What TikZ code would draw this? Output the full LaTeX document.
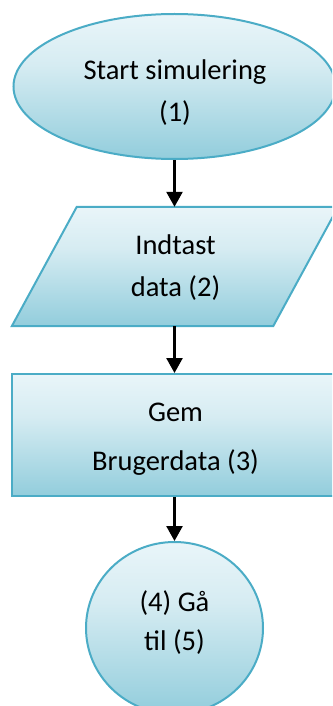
\documentclass[tikz,border=0pt]{standalone}
\usepackage{fontspec}
\setmainfont{Carlito}
\usetikzlibrary{arrows.meta,shapes.geometric,backgrounds}

\definecolor{boxline}{HTML}{4BACC6}
\definecolor{shadetop}{HTML}{E9F5F9}
\definecolor{shademid}{HTML}{D6ECF2}
\definecolor{shadebot}{HTML}{92CDDC}
% light-to-dark vertical fill used by every flowchart shape
\pgfdeclareverticalshading{boxshade}{100bp}{%
  color(0bp)=(shadebot); color(25bp)=(shadebot);
  color(57.5bp)=(shademid);
  color(75bp)=(shadetop); color(100bp)=(shadetop)}

\begin{document}
\begin{tikzpicture}[x=1pt,y=-1pt,
  txt/.style={inner sep=0pt, anchor=base, font=\fontsize{28.5}{34}\selectfont},
  shapebase/.style={inner sep=0pt, draw=boxline, line width=2pt, shade, shading=boxshade},
  terminal/.style={shapebase, ellipse},
  process/.style={shapebase, rectangle},
  connector/.style={shapebase, ellipse},
  iofill/.style={draw=boxline, line width=2pt, shade, shading=boxshade},
  flow/.style={line width=2.5pt, -{Triangle[length=15pt,width=16pt]}}]

\useasboundingbox (0,0) rectangle (332,706);
\clip (0,0) rectangle (332,706);

% start
\node[terminal, minimum width=322, minimum height=145] (start) at (174.5,86.5) {};
\node[txt] (start-l1) at (175,79.3) {Start simulering};
\node[txt] (start-l2) at (175,121.7) {(1)};

% input (parallelogram drawn behind its text)
\node[inner sep=0pt, minimum width=326, minimum height=119] (input) at (175,266.5) {};
\path[iofill] ([xshift=65pt]input.north west) -- (input.north east)
  -- ([xshift=-65pt]input.south east) -- (input.south west) -- cycle;
\node[txt] (input-l1) at (175.5,254.3) {Indtast};
\node[txt] (input-l2) at (175.5,296.7) {data (2)};

% process
\node[process, minimum width=325, minimum height=122] (save) at (174.5,435) {};
\node[txt] (save-l1) at (175.5,421.7) {Gem};
\node[txt] (save-l2) at (175.5,470) {Brugerdata (3)};

% off-page connector
\node[connector, minimum width=177, minimum height=172] (goto) at (174.5,628) {};
\node[txt] (goto-l1) at (174.5,611) {(4) Gå};
\node[txt] (goto-l2) at (174.5,650) {til (5)};

\draw[flow] (start.south) -- (start.south |- input.north);
\draw[flow] (start.south |- input.south) -- (save.north);
\draw[flow] (save.south) -- (goto.north);
\end{tikzpicture}
\end{document}
